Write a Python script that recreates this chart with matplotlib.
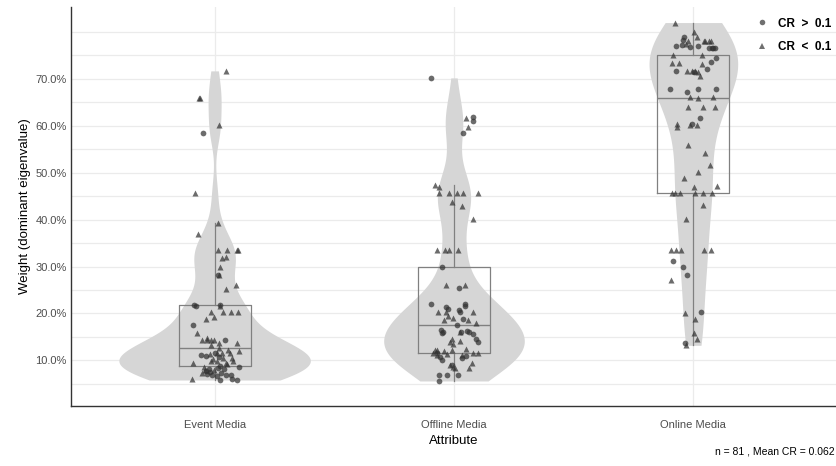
import numpy as np
import matplotlib
matplotlib.use("Agg")
import matplotlib.pyplot as plt
from matplotlib.ticker import PercentFormatter, FixedLocator
from matplotlib.lines import Line2D

plt.rcParams['font.family'] = ['Liberation Sans', 'DejaVu Sans']

attributes = ["Event Media", "Offline Media", "Online Media"]

# weights in %; dx = horizontal jitter (category units); cr_high: 1 -> CR > 0.1
event_w = [71.7, 66.0, 66.0, 60.2, 58.5, 45.6, 39.2, 37.0, 33.6, 33.6, 33.6, 33.6, 32.1, 31.8, 29.9, 28.1,
           28.1, 26.1, 25.3, 21.8, 21.6, 21.8, 21.6, 20.2, 20.2, 20.2, 20.2, 19.2, 18.8, 17.5, 15.9, 14.3,
           14.3, 14.4, 14.4, 14.3, 13.8, 13.2, 11.1, 11.4, 11.6, 11.6, 11.5, 11.9, 11.5, 10.6, 10.6, 9.4,
           9.9, 9.9, 9.5, 9.9, 8.6, 8.8, 8.1, 8.6, 7.7, 8.1, 6.8, 7.0, 6.6, 7.2, 6.8, 6.1, 5.8, 5.8, 6.1,
           7.5, 7.9, 8.3, 7.4, 8.0, 6.9, 10.2, 10.8, 9.2, 12.2, 11.0, 12.6, 13.6, 14.8]
event_dx = [0.047, -0.067, -0.063, 0.018, -0.050, -0.082, 0.015, -0.068, 0.015, 0.053, 0.095, 0.098, 0.046,
            0.032, 0.021, 0.014, 0.017, 0.088, 0.047, -0.084, -0.079, 0.022, 0.023, -0.017, 0.035, 0.068,
            0.099, -0.001, -0.038, -0.091, -0.072, -0.054, -0.033, -0.017, -0.001, 0.042, 0.095, -0.013,
            -0.056, -0.020, 0.011, 0.032, 0.064, 0.101, 0.001, 0.036, 0.074, -0.089, -0.017, 0.011, 0.046,
            0.078, 0.101, 0.021, 0.039, -0.045, -0.038, -0.024, -0.010, -0.033, 0.008, -0.051, 0.067, 0.071,
            0.095, 0.021, -0.093, -0.021, -0.004, 0.013, 0.025, -0.042, 0.046, -0.008, 0.017, 0.050, 0.054,
            -0.038, 0.017, 0.017, -0.033]
event_cr_high = [0, 0, 0, 0, 1, 0, 0, 0, 0, 0, 0, 0, 0, 0, 0, 1, 0, 0, 0, 1, 1, 1, 0, 0, 0, 0, 0, 0, 0, 1,
                 0, 0, 0, 0, 0, 1, 0, 0, 1, 0, 0, 0, 0, 0, 1, 0, 0, 0, 0, 0, 0, 0, 1, 1, 1, 0, 1, 1, 1, 1,
                 1, 0, 1, 1, 1, 1, 0, 1, 0, 1, 1, 0, 1, 0, 1, 0, 0, 1, 0, 0, 0]

offline_w = [70.2, 61.7, 61.9, 61.0, 59.7, 58.5, 47.4, 46.9, 45.6, 45.6, 45.6, 45.6, 45.6, 43.8, 43.0, 40.1,
             33.6, 33.6, 33.6, 33.6, 29.8, 26.1, 26.1, 25.4, 22.0, 21.3, 22.0, 21.6, 20.7, 20.2, 20.2, 20.2,
             20.2, 19.1, 18.6, 18.8, 18.6, 18.0, 17.5, 16.4, 16.0, 16.0, 16.0, 16.0, 15.6, 14.6, 13.9, 14.5,
             13.9, 14.1, 12.2, 11.6, 12.0, 12.2, 12.5, 11.5, 10.8, 10.1, 11.1, 11.5, 11.5, 10.6, 9.1, 8.6,
             9.4, 8.4, 8.3, 6.8, 6.8, 6.8, 5.6, 19.5, 21.0, 11.2, 10.9, 8.9, 11.3, 15.9, 13.5, 12.3, 16.2]
offline_dx = [-0.094, 0.051, 0.078, 0.078, 0.058, 0.037, -0.081, -0.062, -0.062, -0.020, 0.013, 0.037, 0.101,
              -0.008, 0.033, 0.080, -0.072, -0.038, -0.019, 0.016, -0.049, -0.033, 0.044, 0.019, -0.097,
              -0.034, 0.045, 0.045, 0.020, -0.068, -0.034, 0.027, 0.078, -0.006, -0.043, 0.038, 0.059, 0.094,
              0.013, -0.056, -0.045, 0.024, 0.030, 0.062, 0.080, 0.090, 0.099, -0.008, -0.018, 0.027, -0.070,
              -0.070, -0.040, -0.008, 0.051, -0.087, -0.059, -0.049, 0.034, 0.078, 0.101, 0.034, -0.008,
              -0.003, 0.076, 0.062, 0.006, -0.061, -0.028, 0.016, -0.061, -0.023, -0.027, -0.069, 0.052,
              -0.015, -0.031, -0.052, -0.006, -0.081, 0.056]
offline_cr_high = [1, 0, 1, 1, 0, 1, 0, 0, 0, 0, 0, 0, 0, 0, 0, 0, 0, 0, 0, 0, 1, 0, 0, 1, 1, 1, 1, 1, 1, 0,
                   0, 1, 0, 0, 0, 1, 0, 0, 1, 1, 1, 0, 1, 1, 1, 1, 1, 0, 0, 0, 0, 1, 0, 0, 0, 0, 1, 1, 0, 0,
                   0, 1, 1, 0, 0, 0, 0, 1, 1, 1, 1, 0, 1, 0, 1, 0, 0, 1, 0, 0, 1]

online_w = [82.0, 80.0, 79.0, 78.9, 78.2, 78.0, 78.0, 78.0, 78.0, 77.1, 77.3, 76.8, 77.1, 76.6, 76.6, 76.6,
            75.0, 75.0, 74.4, 73.3, 73.3, 73.2, 73.5, 72.1, 71.6, 71.6, 71.6, 71.6, 71.5, 71.4, 70.7, 67.9,
            67.3, 67.9, 67.9, 66.1, 66.1, 64.0, 64.0, 64.0, 61.7, 60.4, 59.7, 60.2, 60.4, 60.2, 56.0, 54.1,
            51.7, 50.1, 48.9, 47.2, 46.9, 45.6, 45.6, 45.6, 45.6, 45.6, 45.6, 43.1, 40.1, 33.6, 33.6, 33.6,
            33.6, 31.2, 29.8, 28.1, 27.1, 20.0, 20.2, 18.8, 15.8, 14.5, 13.8, 13.2, 78.0, 76.6, 77.5, 65.9,
            33.6]
online_dx = [-0.075, 0.001, 0.015, -0.041, -0.043, -0.022, 0.043, 0.064, 0.074, -0.072, -0.047, -0.013, 0.020,
             0.064, 0.078, 0.092, -0.086, 0.036, 0.096, -0.089, -0.058, 0.036, 0.074, 0.057, -0.072, -0.026,
             -0.005, 0.008, 0.004, 0.018, 0.029, -0.096, -0.026, 0.018, 0.095, -0.015, 0.082, -0.024, 0.041,
             0.092, 0.029, -0.068, -0.068, -0.013, -0.005, 0.015, -0.022, 0.047, 0.071, 0.020, -0.041, 0.099,
             0.001, -0.089, -0.075, -0.057, 0.005, 0.041, 0.078, 0.041, -0.029, -0.093, -0.051, 0.043, 0.075,
             -0.086, -0.043, -0.026, -0.092, -0.036, 0.033, 0.008, 0.004, 0.015, -0.033, -0.030, 0.050, 0.083,
             -0.029, 0.021, -0.071]
online_cr_high = [0, 0, 0, 1, 1, 0, 0, 0, 0, 1, 1, 1, 1, 1, 1, 1, 0, 0, 1, 0, 0, 0, 1, 1, 1, 0, 0, 0, 1, 0,
                  0, 1, 1, 1, 1, 0, 0, 0, 0, 0, 1, 0, 0, 0, 1, 0, 0, 0, 0, 0, 0, 0, 0, 0, 0, 0, 0, 0, 0, 0,
                  0, 0, 0, 0, 0, 1, 1, 1, 0, 0, 1, 0, 0, 0, 1, 0, 0, 1, 0, 0, 0]

n_total = 81
mean_cr = 0.062

weights = [event_w, offline_w, online_w]
jitter = [event_dx, offline_dx, online_dx]
cr_high = [event_cr_high, offline_cr_high, online_cr_high]


def bw_nrd0(x):
    # same rule of thumb as R's density() default
    sd = np.std(x, ddof=1)
    q75, q25 = np.percentile(x, [75, 25])
    lo = min(sd, (q75 - q25) / 1.34)
    return 0.9 * lo * len(x) ** -0.2


def kde(x, grid, bw):
    z = (grid[:, None] - x[None, :]) / bw
    return np.exp(-0.5 * z ** 2).sum(axis=1) / (len(x) * bw * np.sqrt(2 * np.pi))


fig = plt.figure(figsize=(8.37, 4.66), dpi=100)
ax = fig.add_axes([0.0848, 0.1288, 0.9152, 0.856])

# violins (trimmed, area-scaled)
grids, dens = [], []
for w in weights:
    x = np.array(w)
    g = np.linspace(x.min(), x.max(), 512)
    grids.append(g)
    dens.append(kde(x, g, bw_nrd0(x)))
dmax = max(d.max() for d in dens)
for i, (g, d) in enumerate(zip(grids, dens)):
    half = d / dmax * 0.4
    ax.fill_betweenx(g, i + 1 - half, i + 1 + half, color='#d6d6d6', lw=0, zorder=1)

ax.boxplot(weights, positions=[1, 2, 3], widths=0.3, showfliers=False, showcaps=False,
           boxprops=dict(color='#808080', lw=0.9),
           whiskerprops=dict(color='#808080', lw=0.9),
           medianprops=dict(color='#808080', lw=1.0),
           zorder=2)

for i in range(3):
    x = i + 1 + np.array(jitter[i])
    y = np.array(weights[i])
    hi = np.array(cr_high[i]) == 1
    ax.scatter(x[hi], y[hi], marker='o', s=17, color='#333333', alpha=0.72, lw=0, zorder=3)
    ax.scatter(x[~hi], y[~hi], marker='^', s=19, color='#333333', alpha=0.72, lw=0, zorder=3)

ax.set_xlim(0.4, 3.6)
ax.set_ylim(0.27, 85.3)
ax.set_xticks([1, 2, 3])
ax.set_xticklabels(attributes)
ax.yaxis.set_major_locator(FixedLocator([10, 20, 30, 40, 50, 60, 70]))
ax.yaxis.set_minor_locator(FixedLocator([5, 15, 25, 35, 45, 55, 65, 75, 80]))
ax.yaxis.set_major_formatter(PercentFormatter(100, decimals=1))
ax.tick_params(which='both', length=0, labelsize=8, labelcolor='#4d4d4d')
ax.tick_params(axis='y', pad=3)
ax.tick_params(axis='x', pad=10)
ax.grid(which='both', axis='y', color='#ebebeb', lw=0.9)
ax.grid(which='major', axis='x', color='#ebebeb', lw=0.9)
ax.set_axisbelow(True)

for s in ['top', 'right']:
    ax.spines[s].set_visible(False)
for s in ['left', 'bottom']:
    ax.spines[s].set_color('#333333')
    ax.spines[s].set_linewidth(1.0)

ax.set_xlabel("Attribute", fontsize=9.5, labelpad=4)
ax.set_ylabel("Weight (dominant eigenvalue)", fontsize=9.5, labelpad=3)

handles = [Line2D([], [], marker='o', ls='', color='#333333', alpha=0.7, markersize=4, mew=0),
           Line2D([], [], marker='^', ls='', color='#333333', alpha=0.7, markersize=4.5, mew=0)]
ax.legend(handles, ["CR  >  0.1", "CR  <  0.1"], loc='upper right', bbox_to_anchor=(1.0, 0.975),
          bbox_transform=fig.transFigure, frameon=False, borderaxespad=0.1,
          prop=dict(weight='bold', size=8.5), labelspacing=0.95, handlelength=1.0, handletextpad=0.8)

fig.text(0.997, 0.032, f"n = {n_total} , Mean CR = {mean_cr}", ha='right', va='center', fontsize=7.5)

fig.savefig("out.png", dpi=100)
